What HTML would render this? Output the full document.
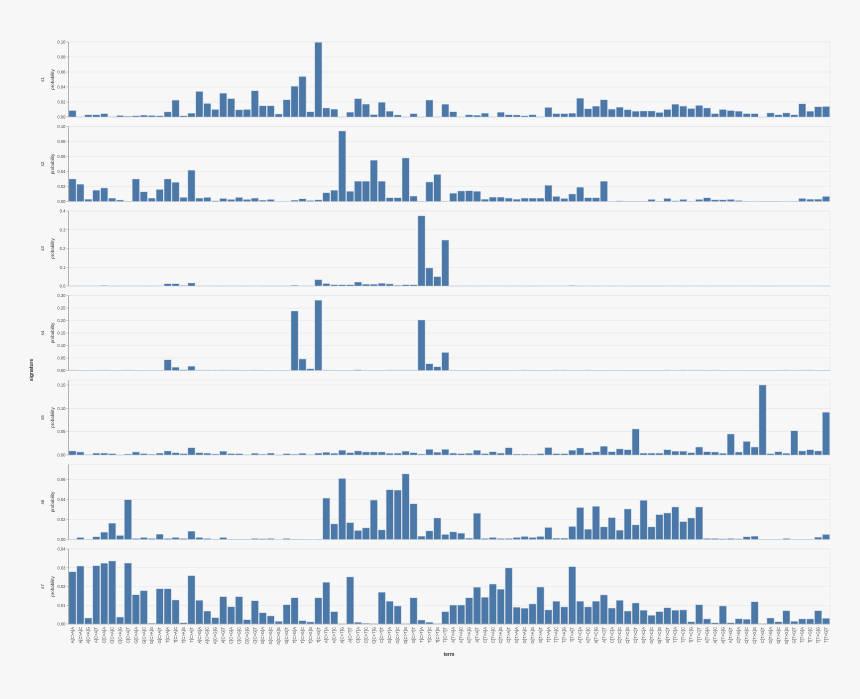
<!DOCTYPE html>
<html><head><meta charset="utf-8"><style>
html,body{margin:0;padding:0;background:#f7f7f7;}
svg{display:block;font-family:"Liberation Sans",sans-serif;}
</style></head><body>
<svg id="chart" width="860" height="699" viewBox="0 0 860 699">
<rect x="0" y="0" width="860" height="699" fill="#f7f7f7"/>
<text x="33" y="370" font-size="5" font-weight="bold" text-anchor="middle" transform="rotate(-90 33 370)" fill="#333">signature</text>
<text x="449" y="656" font-size="5" font-weight="bold" text-anchor="middle" fill="#333">term</text>
</svg>
<script>
const subs = ["C>A","C>G","C>T","T>A","T>C","T>G"];
const bases = ["A","C","G","T"];
const panelNames = ["s1","s2","s3","s4","s5","s6","s7"];
const domainMax = [0.1,0.1,0.4,0.3,0.1607,0.075,0.04];
const tickValues = [
 [0,0.02,0.04,0.06,0.08,0.10],
 [0,0.02,0.04,0.06,0.08,0.10],
 [0,0.1,0.2,0.3,0.4],
 [0,0.05,0.10,0.15,0.20,0.25,0.30],
 [0,0.05,0.10,0.15],
 [0,0.02,0.04,0.06],
 [0,0.01,0.02,0.03,0.04]
];
const tickDigits = [2,2,1,2,2,2,2];
const s1 = [0.0086,0.0005,0.003,0.003,0.0045,0.0003,0.002,0.001,0.0015,0.0025,0.002,0.0015,0.0068,0.0225,0.0015,0.005,0.034,0.018,0.010,0.0317,0.0245,0.0095,0.010,0.035,0.015,0.015,0.004,0.023,0.041,0.054,0.007,0.0995,0.012,0.0105,0.0003,0.0063,0.0245,0.0172,0.0032,0.0195,0.0077,0.0027,0.0002,0.0045,0.0002,0.0226,0.0003,0.017,0.007,0.0005,0.003,0.0023,0.005,0.0005,0.0063,0.003,0.0027,0.0015,0.003,0.0003,0.0127,0.0045,0.0045,0.005,0.025,0.011,0.0145,0.023,0.0105,0.013,0.0098,0.0077,0.008,0.008,0.006,0.01,0.017,0.0145,0.0113,0.0154,0.012,0.0045,0.01,0.0086,0.0077,0.0045,0.0045,0,0.0054,0.003,0.0054,0.003,0.0176,0.0077,0.0136,0.014];
const s2 = [0.030,0.023,0.003,0.015,0.018,0.0045,0.002,0.0003,0.030,0.013,0.0045,0.016,0.030,0.0255,0.0054,0.0417,0.0045,0.0054,0.001,0.004,0.0027,0.0054,0.0027,0.0045,0.0018,0.0027,0.0005,0.0005,0.0018,0.0036,0.0013,0.0022,0.0117,0.015,0.094,0.0135,0.027,0.027,0.055,0.027,0.005,0.005,0.058,0.0072,0.0003,0.026,0.036,0.0003,0.011,0.014,0.0143,0.0135,0.003,0.0058,0.0058,0.0045,0.003,0.0045,0.0045,0.0045,0.0215,0.0067,0.004,0.01,0.019,0.005,0.005,0.027,0.0004,0.0008,0.0003,0.0003,0.0003,0.0027,0.0003,0.004,0.001,0.0027,0.0005,0.0027,0.005,0.0022,0.0022,0.0027,0.0013,0.0003,0.0005,0.0003,0.0003,0.0003,0.0005,0.0003,0.004,0.003,0.003,0.0067];
const s3 = [0.002,0.002,0.002,0.002,0.003,0.001,0.001,0.002,0.002,0.001,0.001,0.002,0.012,0.012,0.003,0.016,0.002,0.002,0.001,0.001,0.002,0.001,0.001,0.002,0.001,0.001,0.001,0.001,0.004,0.002,0.002,0.034,0.013,0.007,0.007,0.007,0.021,0.009,0.009,0.014,0.011,0.004,0.007,0.007,0.374,0.096,0.05,0.245,0.002,0.001,0.002,0.001,0.002,0.002,0.002,0.001,0.002,0.001,0.001,0.002,0.002,0.002,0.002,0.003,0.001,0.002,0.001,0.002,0.001,0.002,0.001,0.001,0.001,0.001,0.001,0.002,0.002,0.001,0.002,0.002,0.001,0.002,0.002,0.001,0.002,0.002,0.002,0.001,0.001,0.001,0.002,0.001,0.002,0.002,0.002,0.001];
const s4 = [0.002,0.001,0.001,0.001,0.002,0.001,0.001,0.002,0.001,0.001,0.001,0.001,0.043,0.013,0.003,0.017,0.002,0.002,0.001,0.002,0.002,0.001,0.001,0.002,0.001,0.001,0.001,0.001,0.238,0.046,0.007,0.281,0.002,0.001,0.001,0.001,0.003,0.001,0.001,0.001,0.002,0.002,0.002,0.002,0.202,0.027,0.015,0.072,0.001,0.001,0.001,0.001,0.001,0.001,0.001,0.001,0.001,0.002,0.001,0.001,0.001,0.002,0.002,0.001,0.001,0.002,0.001,0.001,0.001,0.001,0.001,0.001,0.001,0.001,0.001,0.002,0.001,0.002,0.002,0.002,0.001,0.002,0.001,0.001,0.001,0.001,0.001,0.001,0.001,0.001,0.002,0.001,0.002,0.002,0.001,0.001];
const s5 = [0.0086,0.0064,0.001,0.004,0.004,0.003,0.0005,0.002,0.0064,0.003,0.0015,0.004,0.0086,0.005,0.003,0.0157,0.005,0.004,0.002,0.008,0.003,0.003,0.001,0.0035,0.0015,0.004,0.0003,0.003,0.0015,0.0035,0.001,0.004,0.0057,0.0035,0.01,0.005,0.0086,0.0064,0.0064,0.0064,0.0035,0.004,0.008,0.005,0.002,0.012,0.0057,0.012,0.004,0.003,0.0035,0.01,0.003,0.007,0.004,0.0157,0.002,0.002,0.0015,0.003,0.016,0.003,0.003,0.01,0.015,0.005,0.007,0.0186,0.007,0.013,0.0114,0.0557,0.004,0.004,0.004,0.0114,0.008,0.008,0.005,0.017,0.007,0.0064,0.0035,0.045,0.0064,0.029,0.017,0.15,0.003,0.007,0.0035,0.052,0.0086,0.0114,0.0086,0.0914];
const s6 = [0.0003,0.002,0.0001,0.0027,0.0073,0.0162,0.004,0.0398,0.001,0.002,0.001,0.0053,0.001,0.002,0.001,0.0083,0.002,0.001,0.0002,0.002,0.0002,0.0002,0.0002,0.001,0.0008,0.001,0,0.001,0.0002,0.0002,0,0.0002,0.0414,0.0156,0.061,0.0169,0.009,0.0116,0.0394,0.0096,0.0497,0.0494,0.0656,0.0358,0.0033,0.0086,0.0215,0.005,0.0076,0.0063,0.0013,0.0262,0.001,0.002,0.001,0.001,0.002,0.003,0.002,0.003,0.012,0.0013,0.0013,0.013,0.032,0.0103,0.0331,0.0126,0.0219,0.0093,0.0305,0.0146,0.0391,0.0126,0.0249,0.0265,0.0325,0.0179,0.0215,0.0325,0.001,0.001,0.0007,0.001,0.0007,0.0027,0.0033,0.0003,0.0003,0.0003,0.001,0.0003,0.0003,0.0003,0.0023,0.005];
const s7 = [0.0279,0.0309,0.0032,0.0311,0.0324,0.0336,0.0037,0.0325,0.0156,0.0178,0.0004,0.0188,0.0188,0.0128,0.0007,0.0258,0.0126,0.0069,0.0034,0.0146,0.0092,0.0146,0.0023,0.0124,0.006,0.0043,0.0014,0.0103,0.014,0.0018,0.0011,0.014,0.0222,0.0066,0.0001,0.0251,0.0009,0.0004,0.0001,0.0169,0.0121,0.0096,0.0001,0.014,0.0021,0.0009,0.0002,0.0066,0.0101,0.0101,0.014,0.0196,0.0142,0.0213,0.0185,0.0299,0.0089,0.0084,0.0107,0.0197,0.0075,0.0121,0.0091,0.0306,0.0121,0.0091,0.0121,0.0155,0.0085,0.0126,0.0069,0.0112,0.0073,0.0046,0.0066,0.0087,0.0073,0.0075,0.0012,0.0103,0.0027,0.0007,0.0096,0.0007,0.0028,0.0025,0.0119,0.0002,0.0032,0.0012,0.0071,0.0014,0.0027,0.0027,0.0071,0.003];
const series = [s1,s2,s3,s4,s5,s6,s7];

const categories = [];
subs.forEach(s => bases.forEach(a => bases.forEach(b => categories.push(a + "[" + s + "]" + b))));

const NS = "http://www.w3.org/2000/svg";
const svg = document.getElementById("chart");
const X0 = 68.5, X1 = 830, PH = 75, TOP0 = 42, PITCH = 84.5;
const band = (X1 - X0) / categories.length;
function xScale(i){ return X0 + i * band; }
function mk(tag, attrs, parent){
  const e = document.createElementNS(NS, tag);
  for (const k in attrs) e.setAttribute(k, attrs[k]);
  (parent || svg).appendChild(e);
  return e;
}

series.forEach((vals, p) => {
  const top = TOP0 + p * PITCH, base = top + PH;
  const yScale = v => base - (v / domainMax[p]) * PH;
  const g = mk("g", {});
  
  
  mk("rect", {x:X0, y:top, width:X1-X0, height:PH, fill:"none", stroke:"#e6e6e6", "stroke-width":0.6}, g);
  tickValues[p].forEach(t => {
    const y = yScale(t);
    const gl = mk("line", {x1:X0, x2:X1, y1:y, y2:y, stroke:"#e3e3e3", "stroke-width":0.6}, g);
    
    
    mk("line", {x1:X0-2, x2:X0, y1:y, y2:y, stroke:"#999", "stroke-width":0.5}, g);
    const tl = mk("text", {x:X0-3, y:y+1.5, "font-size":4.2, "text-anchor":"end", fill:"#444"}, g);
    tl.textContent = t.toFixed(tickDigits[p]);
    
    
  });
  vals.forEach((v, i) => {
    const y = yScale(v);
    const r = mk("rect", {x:xScale(i)+0.4, y:y, width:band-0.8, height:Math.max(0.4, base-y), fill:"#4c78a8", stroke:"#c9d6e6", "stroke-width":0.4}, g);
    
    
  });
  mk("line", {x1:X0, x2:X0, y1:top, y2:base, stroke:"#999", "stroke-width":0.7}, g);
  const cy = top + PH/2;
  const pn = mk("text", {x:44, y:cy, "font-size":4.5, "text-anchor":"middle", fill:"#333", transform:"rotate(-90 44 "+cy+")"}, g);
  pn.textContent = panelNames[p];
  
  
  const pr = mk("text", {x:54, y:cy, "font-size":4.5, "text-anchor":"middle", fill:"#333", transform:"rotate(-90 54 "+cy+")"}, g);
  pr.textContent = "probability";
  
  
});

const lastBase = TOP0 + 6 * PITCH + PH;
mk("line", {x1:X0, x2:X1, y1:lastBase, y2:lastBase, stroke:"#999", "stroke-width":0.6});
categories.forEach((c, i) => {
  const x = xScale(i) + band/2 + 1.4, y = lastBase + 3;
  const t = mk("text", {x:x, y:y, "font-size":4.2, "text-anchor":"end", fill:"#444", transform:"rotate(-90 "+x+" "+y+")"});
  t.textContent = c;
  
  
});
</script>
</body></html>
